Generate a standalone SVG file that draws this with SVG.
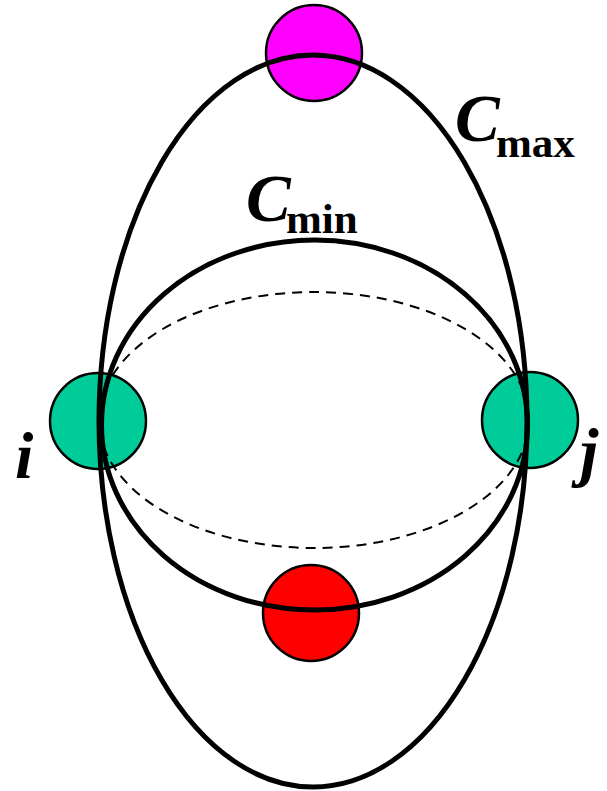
<svg xmlns="http://www.w3.org/2000/svg" width="607" height="791" viewBox="0 0 607 791">
<style>
.node{stroke:#000;stroke-width:2.5}
.curve{fill:none;stroke:#000;stroke-width:5}
.dash{fill:none;stroke:#000;stroke-width:2;stroke-dasharray:10 7}
.lab{font-family:"Liberation Serif","Times New Roman",serif;font-weight:bold;font-style:italic;fill:#000}
.sub{font-family:"Liberation Serif","Times New Roman",serif;font-weight:bold;fill:#000}
</style>
<rect width="607" height="791" fill="#fff"/>
<g id="node-top"><circle class="node" cx="314" cy="53" r="48" fill="#FF00FF"/></g>
<g id="node-bottom"><circle class="node" cx="311" cy="613" r="48" fill="#FF0000"/></g>
<g id="node-i"><circle class="node" cx="98" cy="421" r="48" fill="#00CC99"/></g>
<g id="node-j"><circle class="node" cx="530" cy="420" r="48" fill="#00CC99"/></g>
<g id="connectors">
<ellipse class="curve" cx="313" cy="421" rx="214" ry="366"/>
<ellipse class="curve" cx="314.5" cy="425" rx="213" ry="185"/>
<ellipse class="dash" cx="314" cy="420" rx="215" ry="128"/>
</g>
<g id="labels">
<text class="lab" x="455" y="141" font-size="67">C</text>
<text class="sub" x="496" y="157" font-size="43">max</text>
<text class="lab" x="246" y="221" font-size="67">C</text>
<text class="sub" x="286" y="233" font-size="43">min</text>
<text class="lab" x="15" y="478" font-size="66">i</text>
<text class="lab" x="580" y="474" font-size="66">j</text>
</g>
</svg>
